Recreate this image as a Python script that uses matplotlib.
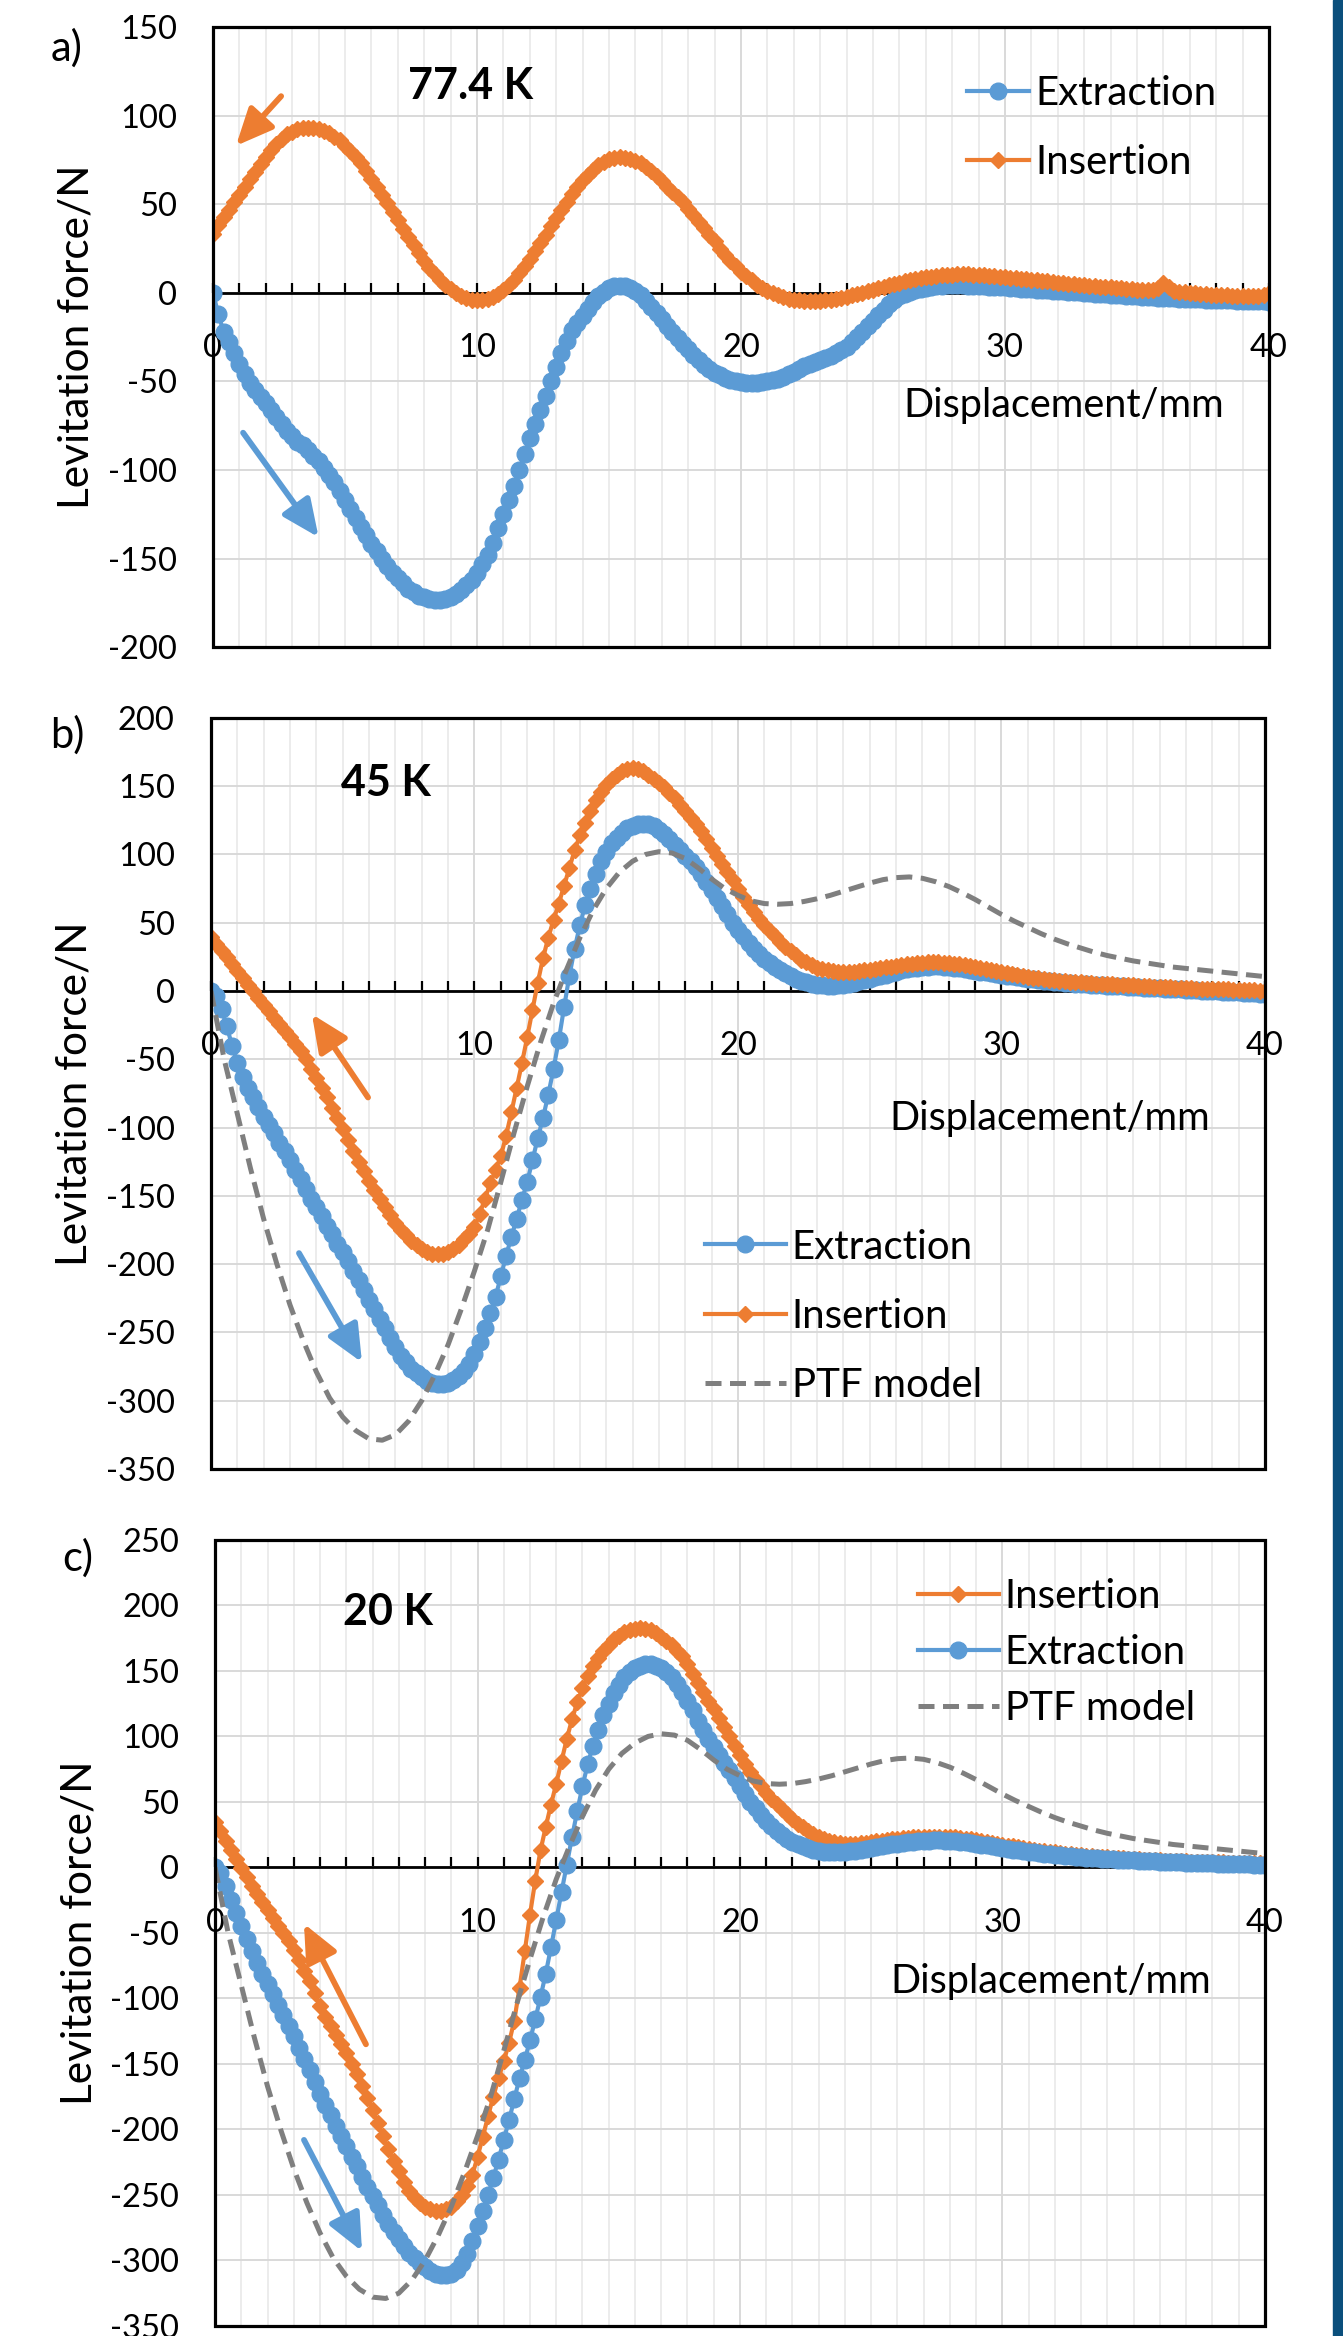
import numpy as np
import matplotlib
matplotlib.use('Agg')
import matplotlib.pyplot as plt
from matplotlib.lines import Line2D
from matplotlib.patches import Rectangle, ArrowStyle
from matplotlib.ticker import MultipleLocator

plt.rcParams['font.family'] = ['Lato', 'DejaVu Sans']
plt.rcParams['axes.unicode_minus'] = False

BLUE = '#5B9BD5'
ORANGE = '#ED7D31'
GREY = '#7F7F7F'

# --- data ---
# measurement positions, 0.2 mm step; PTF model, 0.5 mm step
x_meas = np.linspace(0, 40, 201)
x_ptf = np.linspace(0, 40, 81)

# a) 77.4 K
a_ext = [0, -12, -22, -28, -34, -40, -46, -51, -55, -59,
         -62, -66, -70, -74, -78, -81, -84, -86, -89, -92,
         -95, -99, -103, -107, -112, -117, -122, -127, -132, -137,
         -142, -146, -150, -154, -158, -161, -164, -167, -169, -171,
         -172, -173, -173.5, -173.5, -173, -172, -170, -168, -165, -162,
         -158, -153, -148, -141, -133, -125, -117, -109, -100, -91,
         -82, -74, -66, -58, -50, -42, -34, -27, -21, -17,
         -13, -9, -5, -2, 0.5, 2.5, 3.7, 4, 3.7, 2.7,
         1, -1.5, -4.5, -8, -11.5, -15, -18.5, -22, -25.5, -29,
         -32, -35, -38, -40.5, -43, -45, -46.5, -48, -49, -50,
         -50.5, -51, -51, -51, -50.5, -50, -49.5, -48.5, -47.5, -46,
         -44.5, -43, -41.5, -40, -39, -38, -37, -35.5, -34, -32.5,
         -30.5, -28, -25, -22, -19, -16, -12.5, -9.5, -6.5, -4,
         -2, -0.5, 0.5, 1.5, 2.2, 2.8, 3.3, 3.7, 4, 4.2,
         4.3, 4.3, 4.2, 4.1, 4, 3.8, 3.6, 3.4, 3.2, 3.1,
         3, 2.8, 2.6, 2.4, 2.2, 2, 1.8, 1.6, 1.4, 1.2,
         1, 0.8, 0.6, 0.4, 0.2, 0, -0.2, -0.4, -0.6, -0.8,
         -1, -1.2, -1.4, -1.6, -1.8, -2, -2.2, -2.4, -2.6, -2.8,
         -3, -3.1, -3.2, -3.3, -3.4, -3.5, -3.6, -3.7, -3.8, -3.9,
         -4, -4.1, -4.2, -4.3, -4.4, -4.5, -4.6, -4.7, -4.8, -4.9,
         -5]
a_ins = [33, 38, 43, 47, 51, 55, 59.5, 64, 68, 72.5,
         76.5, 80.5, 84, 87, 89.5, 91, 92.3, 93, 93.3, 93.3,
         92.5, 91.5, 90, 88, 86, 83, 80, 76.5, 73, 69,
         64.5, 60, 55, 50.5, 45.5, 41, 36, 31.5, 27, 22.5,
         18, 14, 10.5, 7.5, 4.5, 2, 0, -2, -3, -3.8,
         -4, -3.9, -3.4, -2.2, -0.6, 1.6, 4.3, 7.4, 11, 15,
         19, 23.5, 28, 32.5, 37.5, 42, 47, 51.5, 55.5, 59.5,
         63.5, 66.5, 69.5, 72, 74, 75.5, 76.2, 76.5, 76.3, 75.6,
         74.5, 73, 71, 68.5, 66, 63, 60, 57, 54, 51,
         47.5, 44, 40, 36.5, 32.5, 29, 25, 21.5, 18, 15,
         12, 9.5, 7, 4.5, 2.5, 1, -0.3, -1.5, -2.5, -3.3,
         -4, -4.3, -4.5, -4.6, -4.5, -4.4, -4.1, -3.8, -3.3, -2.8,
         -2.2, -1.5, -0.8, 0, 0.8, 1.6, 2.5, 3.3, 4.2, 5,
         5.8, 6.5, 7.2, 7.8, 8.3, 8.8, 9.2, 9.6, 9.9, 10.1,
         10.3, 10.4, 10.4, 10.4, 10.2, 10.1, 9.9, 9.7, 9.4, 9.1,
         8.8, 8.5, 8.2, 7.9, 7.6, 7.3, 7, 6.7, 6.4, 6.1,
         5.8, 5.5, 5.2, 4.9, 4.6, 4.3, 4, 3.7, 3.5, 3.2,
         3, 2.7, 2.5, 2.2, 2, 1.7, 1.6, 1.4, 1.5, 2.5,
         5.5, 3, 1, 0.6, 0.3, 0, -0.3, -0.5, -0.8, -1,
         -1.2, -1.3, -1.5, -1.6, -1.8, -1.9, -2, -2, -2, -1.5,
         0]

# b) 45 K
b_ext = [0, -4, -13, -26, -40, -53, -63, -71, -78, -85,
         -92, -98, -104, -111, -117, -124, -131, -138, -145, -152,
         -158, -165, -172, -178, -185, -191, -198, -205, -212, -219,
         -226, -233, -240, -247, -254, -261, -267, -272, -277, -280,
         -283, -285.5, -287, -288, -288, -287, -285, -282, -278, -273,
         -266, -257, -247, -236, -224, -209, -194, -180, -167, -153,
         -140, -124, -108, -93, -76, -57, -36, -12, 11, 31,
         48, 63, 75, 86, 95, 102, 108, 112, 116, 119,
         121, 122, 122.5, 122, 120.5, 118, 115, 111, 107, 103,
         99, 95, 91, 86, 80, 74, 68, 62, 56, 50,
         45, 40, 35, 31, 27, 23.5, 20.5, 17.5, 15, 13,
         11, 9, 7.5, 6.2, 5.2, 4.5, 4, 3.8, 3.8, 4,
         4.5, 5.2, 6, 7, 8, 9, 10, 11, 12, 13,
         14, 15, 15.8, 16.5, 17, 17.5, 17.8, 18, 18, 17.8,
         17.5, 17.1, 16.6, 16, 15.4, 14.8, 14.2, 13.6, 13, 12.4,
         11.8, 11.2, 10.6, 10, 9.5, 9, 8.5, 8, 7.6, 7.2,
         6.8, 6.4, 6, 5.7, 5.4, 5.1, 4.8, 4.5, 4.3, 4.1,
         3.9, 3.7, 3.5, 3.3, 3.1, 2.9, 2.7, 2.5, 2.3, 2.1,
         1.9, 1.7, 1.5, 1.3, 1.1, 0.9, 0.7, 0.5, 0.3, 0.1,
         -0.1, -0.3, -0.5, -0.7, -0.9, -1.1, -1.3, -1.5, -1.7, -1.9,
         -2]
b_ins = [39.5, 34.5, 29.5, 24.5, 19.5, 14.5, 9.5, 4.5, 0, -5,
         -10, -15, -19.5, -24, -29, -33.5, -38.5, -44, -50, -57,
         -64, -71, -78, -86, -93, -101, -109, -117, -125, -132,
         -139, -146, -152, -158, -164, -170, -175, -179, -183, -186,
         -189, -191, -192.5, -193, -192.5, -191, -189, -186, -182, -178,
         -173, -163, -152, -141, -131, -121, -106, -89, -71, -53,
         -34, -14, 6, 24, 39, 52, 64, 77, 90, 103,
         114, 123, 132, 140, 146, 151, 155, 158.5, 161, 162.5,
         163, 162.5, 161, 158, 155, 152, 149, 145, 141, 136,
         132, 127, 122, 117, 111, 105, 99, 93, 87, 81,
         75, 69, 63, 58, 53, 48, 44, 40, 36, 32,
         29, 26, 23, 21, 19, 17, 16, 15, 14.5, 14.2,
         14, 14, 14.2, 14.5, 15, 15.5, 16, 16.6, 17.2, 17.8,
         18.4, 19, 19.5, 20, 20.4, 20.7, 20.9, 21, 21, 20.8,
         20.5, 20, 19.5, 18.8, 18.1, 17.4, 16.7, 16, 15.2, 14.4,
         13.6, 12.9, 12.2, 11.5, 10.9, 10.3, 9.8, 9.3, 8.8, 8.3,
         7.9, 7.5, 7.1, 6.8, 6.5, 6.2, 5.9, 5.7, 5.4, 5.2,
         5, 4.8, 4.6, 4.4, 4.2, 4, 3.8, 3.6, 3.4, 3.2,
         3, 2.8, 2.6, 2.4, 2.2, 2, 1.8, 1.7, 1.6, 1.5,
         1.4, 1.3, 1.2, 1.1, 1, 0.9, 0.8, 0.6, 0.4, 0.2,
         0]

# c) 20 K
c_ins = [34.4, 27.5, 20.5, 13.5, 6.5, -0.5, -7.5, -14.5, -20.5, -26.5,
         -32.5, -38.5, -44.5, -50, -56, -63, -71, -79, -87, -96,
         -106, -114, -121, -128, -135, -142, -150, -158, -167, -176,
         -185, -195, -205, -215, -224, -232, -240, -247, -252, -256,
         -259, -261, -262, -262, -261, -259, -255, -250, -243, -235,
         -221, -206, -190, -175, -161, -148, -134, -117, -92, -64,
         -36, -10, 13, 31, 48, 64, 81, 98, 113, 126,
         137, 146, 154, 160, 165, 170, 174, 177, 179.5, 181,
         182, 182.5, 182, 181, 179, 176, 173, 169.5, 165.5, 161,
         155, 148, 141, 134, 127, 121, 114, 107, 100, 93,
         86, 79, 73, 67, 62, 57, 52.5, 48.5, 44.5, 40.5,
         37, 33.5, 30.5, 28, 25.5, 23.5, 22, 20.5, 19.5, 18.7,
         18.2, 18, 18.2, 18.5, 18.9, 19.4, 19.9, 20.4, 20.9, 21.4,
         21.8, 22.2, 22.6, 22.9, 23.1, 23.3, 23.4, 23.5, 23.5, 23.4,
         23.2, 22.9, 22.5, 22, 21.4, 20.8, 20.2, 19.5, 18.8, 18.1,
         17.4, 16.7, 16, 15.3, 14.7, 14.1, 13.5, 12.9, 12.4, 11.9,
         11.4, 10.9, 10.5, 10.1, 9.7, 9.3, 8.9, 8.6, 8.3, 8,
         7.7, 7.4, 7.1, 6.9, 6.6, 6.4, 6.2, 6, 5.8, 5.6,
         5.4, 5.2, 5.1, 4.9, 4.8, 4.6, 4.5, 4.4, 4.2, 4.1,
         4, 3.9, 3.8, 3.7, 3.6, 3.5, 3.4, 3.3, 3.2, 3.1,
         3]
c_ext = [0, -4, -14, -25, -35, -45, -55, -64, -73, -81,
         -89, -97, -105, -113, -121, -129, -138, -146, -155, -164,
         -173, -181, -189, -197, -205, -213, -221, -228, -236, -244,
         -251, -258, -265, -272, -278, -284, -289, -294, -298, -302,
         -305, -308, -310, -311, -311, -310, -307, -302, -295, -285,
         -274, -262, -250, -237, -223, -208, -193, -177, -161, -147,
         -132, -116, -99, -81, -61, -40, -19, 2, 23, 43,
         62, 79, 93, 105, 116, 125, 133, 139, 145, 149,
         152, 154, 155, 155, 154, 152, 149, 145, 140, 134,
         127, 120, 112, 105, 98, 92, 86, 80, 74, 68,
         62, 56, 50, 45, 40, 35.5, 31.5, 28, 25, 22,
         19.5, 17.5, 16, 14.6, 13.5, 12.6, 12, 11.6, 11.4, 11.5,
         11.8, 12.2, 12.8, 13.4, 14.1, 14.8, 15.5, 16.2, 16.9, 17.5,
         18.1, 18.7, 19.2, 19.6, 20, 20.3, 20.5, 20.6, 20.6, 20.5,
         20.3, 20, 19.6, 19.1, 18.6, 18, 17.4, 16.8, 16.1, 15.5,
         14.8, 14.2, 13.6, 13, 12.4, 11.9, 11.4, 10.9, 10.4, 10,
         9.6, 9.2, 8.8, 8.4, 8.1, 7.8, 7.5, 7.2, 6.9, 6.6,
         6.4, 6.1, 5.9, 5.7, 5.5, 5.3, 5.1, 4.9, 4.7, 4.6,
         4.4, 4.2, 4.1, 3.9, 3.8, 3.6, 3.5, 3.4, 3.2, 3.1,
         3, 2.9, 2.8, 2.7, 2.6, 2.5, 2.4, 2.3, 2.2, 2.1,
         2]

# PTF model (same curve in b and c)
ptf = [0, -50, -90, -130, -167, -200, -230, -256, -279, -298,
       -312, -322, -328, -329, -325, -315, -300, -281, -259, -233,
       -205, -175, -140, -104, -70, -38, -9, 16, 39, 59,
       75, 87, 95, 100, 102, 101, 97, 90, 82, 75,
       70, 66, 64, 63.5, 64, 65.5, 67.5, 70, 73, 76,
       79, 81.5, 83, 83.5, 82.5, 80, 76.5, 72, 67, 61.5,
       56, 51, 46.5, 42, 38, 34.5, 31.5, 28.5, 26, 24,
       22, 20.5, 19, 17.5, 16.5, 15.5, 14.5, 13.5, 12.5, 11.5,
       10.5]

TICK_FS = 23.5
LABEL_FS = 28.5
YLABEL_FS = 30.5
LEG_FS = 29
TEMP_FS = 31
PTF_DASH = (0, (3.2, 1.7))


def style_axes(ax, ymin, ymax):
    ax.set_xlim(0, 40)
    ax.set_ylim(ymin, ymax)
    ax.xaxis.set_major_locator(MultipleLocator(10))
    ax.xaxis.set_minor_locator(MultipleLocator(1))
    ax.yaxis.set_major_locator(MultipleLocator(50))
    ax.grid(which='major', axis='both', color='#D9D9D9', lw=1.4)
    ax.grid(which='minor', axis='x', color='#EAEAEA', lw=1.3)
    ax.set_axisbelow(True)
    for s in ['top', 'left', 'right']:
        ax.spines[s].set_visible(False)
    ax.spines['bottom'].set_position(('data', 0))
    ax.spines['bottom'].set_linewidth(2.0)
    ax.add_patch(Rectangle((0, 0), 1, 1, transform=ax.transAxes, fill=False,
                           ec='black', lw=2.3, clip_on=False, zorder=6))
    ax.tick_params(axis='x', which='both', direction='in', length=7, width=1.6,
                   pad=29, labelsize=TICK_FS)
    ax.tick_params(axis='y', length=0, pad=26, labelsize=TICK_FS)
    ax.set_ylabel('Levitation force/N', fontsize=YLABEL_FS)
    ax.yaxis.set_label_coords(-0.111, 0.5)


def draw_ext(ax, y):
    ax.plot(x_meas, y, color=BLUE, lw=3, marker='o', ms=12, mec=BLUE, zorder=3)


def draw_ins(ax, y):
    ax.plot(x_meas, y, color=ORANGE, lw=3, marker='D', ms=8.5, mec=ORANGE, zorder=3)


def draw_ptf(ax):
    ax.plot(x_ptf, ptf, color=GREY, lw=3.6, ls=PTF_DASH, zorder=4)


def arrow(ax, start, end, color):
    ax.annotate('', xy=end, xytext=start,
                arrowprops=dict(arrowstyle=ArrowStyle('-|>', head_length=0.8, head_width=0.36),
                                color=color, lw=4.2, mutation_scale=28,
                                shrinkA=0, shrinkB=0), zorder=5)


h_ext = Line2D([], [], color=BLUE, lw=3, marker='o', ms=12)
h_ins = Line2D([], [], color=ORANGE, lw=3, marker='D', ms=8.5)
h_ptf = Line2D([], [], color=GREY, lw=3.6, ls=PTF_DASH)

fig = plt.figure(figsize=(13.43, 23.36), dpi=100)
ax_a = fig.add_axes([0.1586, 0.7230, 0.7863, 0.2654])
ax_b = fig.add_axes([0.1571, 0.3712, 0.7848, 0.3215])
ax_c = fig.add_axes([0.1601, 0.0043, 0.7818, 0.3365])

# --- a) ---
style_axes(ax_a, -200, 150)
draw_ext(ax_a, a_ext)
draw_ins(ax_a, a_ins)
ax_a.text(9.77, 117, '77.4 K', fontsize=TEMP_FS, fontweight='bold', ha='center', va='center')
ax_a.text(0.806, 0.389, 'Displacement/mm', transform=ax_a.transAxes, fontsize=LABEL_FS,
          ha='center', va='center')
arrow(ax_a, (2.58, 111), (0.87, 83), ORANGE)
arrow(ax_a, (1.14, -79), (4.0, -138), BLUE)
ax_a.legend([h_ext, h_ins], ['Extraction', 'Insertion'], loc='upper left',
            bbox_to_anchor=(0.714, 0.923), frameon=False, fontsize=LEG_FS,
            handlelength=1.55, handletextpad=0.15, labelspacing=0.8,
            borderpad=0, borderaxespad=0)

# --- b) ---
style_axes(ax_b, -350, 200)
draw_ext(ax_b, b_ext)
draw_ins(ax_b, b_ins)
draw_ptf(ax_b)
ax_b.text(6.64, 152, '45 K', fontsize=TEMP_FS, fontweight='bold', ha='center', va='center')
ax_b.text(0.796, 0.466, 'Displacement/mm', transform=ax_b.transAxes, fontsize=LABEL_FS,
          ha='center', va='center')
arrow(ax_b, (5.96, -78), (3.83, -17), ORANGE)
arrow(ax_b, (3.34, -192), (5.73, -272), BLUE)
ax_b.legend([h_ext, h_ins, h_ptf], ['Extraction', 'Insertion', 'PTF model'], loc='upper left',
            bbox_to_anchor=(0.4687, 0.320), frameon=False, fontsize=LEG_FS,
            handlelength=2.0, handletextpad=0.15, labelspacing=0.8,
            borderpad=0, borderaxespad=0)

# --- c) ---
style_axes(ax_c, -350, 250)
draw_ins(ax_c, c_ins)
draw_ext(ax_c, c_ext)
draw_ptf(ax_c)
ax_c.text(6.6, 195, '20 K', fontsize=TEMP_FS, fontweight='bold', ha='center', va='center')
ax_c.text(0.796, 0.4377, 'Displacement/mm', transform=ax_c.transAxes, fontsize=LABEL_FS,
          ha='center', va='center')
arrow(ax_c, (5.75, -135), (3.39, -43), ORANGE)
arrow(ax_c, (3.39, -208), (5.6, -293), BLUE)
ax_c.legend([h_ins, h_ext, h_ptf], ['Insertion', 'Extraction', 'PTF model'], loc='upper left',
            bbox_to_anchor=(0.6695, 0.951), frameon=False, fontsize=LEG_FS,
            handlelength=2.0, handletextpad=0.15, labelspacing=0.47,
            borderpad=0, borderaxespad=0)

# panel letters
fig.text(67 / 1343, 1 - 48 / 2336, 'a)', fontsize=30, ha='center', va='center')
fig.text(67 / 1343, 1 - 735 / 2336, 'b)', fontsize=30, ha='center', va='center')
fig.text(78 / 1343, 1 - 1558 / 2336, 'c)', fontsize=30, ha='center', va='center')

# dark strip on the right edge
fig.add_artist(Rectangle((1333 / 1343, 0), 10 / 1343, 1, transform=fig.transFigure,
                         color='#0B4F7C', zorder=10))

fig.savefig('out.png', dpi=100)
